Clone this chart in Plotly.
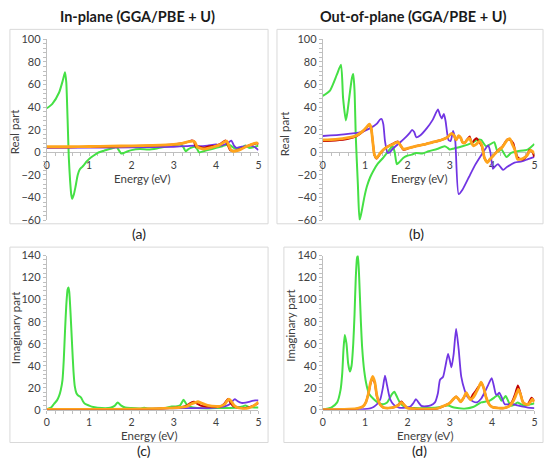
import plotly.graph_objects as go

# ---------------- DATA ----------------
# Panel (a): real part, in-plane
a_green_x = [0, 0.13, 0.29, 0.38, 0.43, 0.46, 0.48, 0.5, 0.52, 0.55, 0.58, 0.6, 0.64, 0.68, 0.73, 0.78, 0.83, 0.87, 0.93, 1.0, 1.1, 1.22, 1.35, 1.46, 1.58, 1.65, 1.7, 1.76, 1.82, 1.9, 2.0, 2.2, 2.4, 2.6, 2.8, 3.0, 3.15, 3.22, 3.28, 3.33, 3.4, 3.5, 3.55, 3.6, 3.7, 3.85, 4.0, 4.15, 4.3, 4.36, 4.45, 4.6, 4.7, 4.78, 4.88, 5.0]
a_green_y = [39, 43, 53, 64, 71, 62, 42, 18, -5, -25, -38, -41, -37, -30, -20, -15, -13, -11.5, -8.5, -5.8, -3, -0.1, 1.5, 2.8, 4, 4.8, 2, -1, -0.5, 0.8, 2, 3, 2.5, 3.5, 5, 6, 7, 5, 1, 2.5, 4, 5, 3, 0, 1, 2.5, 4, 5.5, 7, 5.5, 3.5, 4.5, 6, 4, 4.5, 6]
a_purple_x = [0, 1, 2, 3, 3.3, 3.5, 3.6, 3.8, 4.0, 4.1, 4.2, 4.3, 4.36, 4.42, 4.48, 4.6, 4.7, 4.8, 4.9, 5.0]
a_purple_y = [4, 4.2, 4.5, 5, 5.5, 6, 5.5, 6, 7, 6, 7, 9, 10.5, 6, 4, 5, 5.5, 6, 5, 2]
a_red_x = [0, 0.5, 1, 1.5, 2, 2.5, 3.0, 3.2, 3.35, 3.42, 3.47, 3.52, 3.6, 3.7, 3.8, 3.9, 4.0, 4.1, 4.15, 4.22, 4.28, 4.33, 4.4, 4.5, 4.6, 4.7, 4.8, 4.9, 4.95, 5.0]
a_red_y = [4.5, 4.6, 4.8, 5.2, 5.6, 6, 7, 8, 9.5, 10.5, 10, 5, 5, 4, 5, 5.5, 6, 7.5, 9, 10.5, 6, 2, 1.5, 2, 3.5, 5, 6.5, 7.5, 8, 7]
a_orange_x = [0, 0.5, 1, 1.5, 2, 2.5, 3.0, 3.2, 3.35, 3.45, 3.5, 3.55, 3.6, 3.7, 3.8, 3.9, 4.0, 4.1, 4.18, 4.25, 4.3, 4.35, 4.4, 4.5, 4.6, 4.7, 4.8, 4.9, 4.95, 5.0]
a_orange_y = [5, 5, 5.2, 5.5, 5.8, 6.2, 7, 8, 9.5, 10, 9, 5, 4, 3, 3.5, 4.5, 5.5, 7, 9, 10, 6, 2, 1, 1.5, 3, 5, 6.5, 8, 8.5, 7.5]

# Panel (b): real part, out-of-plane
b_green_x = [0, 0.17, 0.33, 0.43, 0.48, 0.545, 0.58, 0.64, 0.69, 0.72, 0.75, 0.78, 0.83, 0.87, 0.92, 0.98, 1.04, 1.12, 1.2, 1.3, 1.43, 1.55, 1.65, 1.7, 1.75, 1.8, 1.9, 1.98, 2.1, 2.21, 2.35, 2.5, 2.7, 2.88, 2.95, 3.0, 3.1, 3.3, 3.5, 3.66, 3.74, 3.8, 3.86, 3.95, 4.05, 4.13, 4.22, 4.34, 4.45, 4.6, 4.84, 5.0]
b_green_y = [50, 54.7, 68.5, 77.6, 48, 28.3, 35, 52.7, 66, 69.3, 55, 14, -29, -60, -52, -40, -30.4, -22, -16, -10, -4.6, 1.1, 5.4, 0, -10.4, -9, -5, -3.2, -2, -0.5, -1, 1, 3, 5.4, 4, 2.5, 3.5, 5.5, 8, 11.2, 11, 8, 5.4, 7, 9, 0.5, 2.5, -4, -0.4, 1, 2.5, 7.5]
b_purple_x = [0, 0.5, 0.9, 1.1, 1.28, 1.35, 1.39, 1.43, 1.47, 1.53, 1.58, 1.65, 1.8, 1.95, 2.05, 2.11, 2.16, 2.21, 2.3, 2.45, 2.6, 2.72, 2.77, 2.81, 2.86, 2.9, 2.97, 3.02, 3.08, 3.13, 3.21, 3.3, 3.45, 3.6, 3.75, 3.83, 3.91, 3.96, 4.02, 4.08, 4.14, 4.2, 4.26, 4.35, 4.53, 4.7, 4.85, 5.0]
b_purple_y = [14.5, 16, 18, 21, 25.5, 29, 29.5, 25, 10, -0.4, 0, 3, 8, 13, 17, 20, 18, 13.4, 15, 21, 29, 38, 33, 30, 34, 28, 11, 10, 19, 10, -37, -33, -22, -11, -2, 2.5, 6.2, 0, -14.5, -12, -10.4, -13, -15.5, -13, -9, -8, -6, -4]
b_red_x = [0, 0.3, 0.6, 0.8, 0.95, 1.05, 1.1, 1.14, 1.18, 1.22, 1.27, 1.35, 1.45, 1.55, 1.65, 1.72, 1.78, 1.84, 1.9, 1.95, 2.05, 2.2, 2.4, 2.6, 2.8, 2.95, 3.04, 3.1, 3.15, 3.21, 3.26, 3.3, 3.35, 3.41, 3.47, 3.52, 3.58, 3.63, 3.7, 3.76, 3.82, 3.89, 3.95, 4.05, 4.13, 4.25, 4.36, 4.42, 4.5, 4.56, 4.62, 4.68, 4.75, 4.82, 4.88, 4.94, 5.0]
b_red_y = [10, 10.5, 12, 14.5, 18.5, 22.5, 24.5, 22, 10, -2, -5.5, -1.5, 3, 5.5, 7.5, 9, 9.5, 6, 2.5, 2.5, 4, 5.5, 7, 9, 11, 13.5, 16.5, 15, 11, 14.5, 12.5, 9, 8.5, 11.5, 14, 8, 11, 12.5, 9, 5, -5, -8.5, -6, -2, 1.5, 5.5, 11.5, 11, 8, -1, -5, -6, -6, -3, 2, 1, -4]
b_orange_x = [0, 0.3, 0.6, 0.8, 0.95, 1.05, 1.1, 1.14, 1.18, 1.22, 1.27, 1.35, 1.45, 1.55, 1.65, 1.72, 1.78, 1.84, 1.9, 1.95, 2.05, 2.2, 2.4, 2.6, 2.8, 2.95, 3.04, 3.1, 3.15, 3.21, 3.26, 3.3, 3.35, 3.41, 3.47, 3.52, 3.56, 3.62, 3.7, 3.76, 3.82, 3.89, 3.95, 4.05, 4.13, 4.25, 4.36, 4.42, 4.48, 4.54, 4.6, 4.68, 4.75, 4.82, 4.9, 4.95, 5.0]
b_orange_y = [11, 11.5, 13, 15, 19, 23, 25, 22, 10, -2, -5, -1, 3, 5.5, 7, 8.5, 9, 6, 3, 3, 4, 5.5, 7, 9, 11, 13.5, 16.8, 15, 11, 14.8, 13, 9, 8.3, 11, 12.5, 8, 5.8, 7, 9.7, 6, -5, -9, -6, -2, 1.1, 5, 11, 12, 7, 2, -6, -6, -5, -3, 1.7, 1, -1]

# Panel (c): imaginary part, in-plane
c_green_x = [0, 0.1, 0.17, 0.24, 0.29, 0.33, 0.37, 0.4, 0.43, 0.46, 0.49, 0.51, 0.53, 0.56, 0.6, 0.63, 0.66, 0.7, 0.74, 0.78, 0.81, 0.85, 0.9, 1.0, 1.1, 1.3, 1.5, 1.6, 1.675, 1.75, 1.85, 2.0, 2.2, 2.3, 2.4, 2.6, 2.8, 2.95, 3.05, 3.15, 3.23, 3.3, 3.4, 3.55, 3.8, 4.0, 4.2, 4.5, 4.62, 4.69, 4.78, 4.9, 5.0]
c_green_y = [0.5, 2, 5.3, 8.5, 12.6, 18, 27, 45, 71.5, 95, 109, 111, 107, 88, 56.7, 35, 21.4, 15, 13, 12, 11, 8, 5.5, 3.8, 2.5, 1.5, 1.8, 3.5, 6.7, 4, 2, 1.5, 1.2, 1.8, 1.2, 1, 1.5, 3, 3, 4, 9, 5, 2.5, 1.5, 1.2, 1.5, 1.5, 2, 3, 3.8, 2.5, 2, 2]
c_purple_x = [0, 1, 2, 2.5, 2.9, 3.2, 3.5, 3.8, 4.0, 4.2, 4.32, 4.39, 4.44, 4.5, 4.6, 4.7, 4.8, 4.85, 4.92, 5.0]
c_purple_y = [0.3, 0.3, 0.5, 0.8, 1.2, 1.5, 1.5, 1.5, 2, 3, 5, 8, 9.7, 8, 6.2, 6.5, 7.5, 8, 8.5, 8.6]
c_red_x = [0, 1, 2, 2.6, 2.9, 3.1, 3.25, 3.35, 3.43, 3.48, 3.55, 3.65, 3.8, 4.0, 4.1, 4.18, 4.24, 4.28, 4.33, 4.4, 4.5, 4.6, 4.7, 4.8, 4.9, 5.0]
c_red_y = [0.3, 0.3, 0.6, 1, 1.5, 2, 3, 5, 7, 7.3, 5.5, 3.5, 3, 2.5, 3, 5, 8, 9.7, 7, 3.5, 2, 1.5, 1.5, 2.5, 4, 6]
c_orange_x = [0, 1, 2, 2.6, 2.9, 3.1, 3.3, 3.4, 3.5, 3.57, 3.65, 3.8, 4.0, 4.1, 4.2, 4.26, 4.3, 4.35, 4.42, 4.5, 4.6, 4.7, 4.8, 4.9, 5.0]
c_orange_y = [0.3, 0.3, 0.6, 1, 1.5, 2, 3, 5, 6.5, 7.3, 6, 4, 3, 3.2, 5, 8, 9.7, 8, 4, 2, 1.2, 1, 2, 4, 7]

# Panel (d): imaginary part, out-of-plane
d_green_x = [0, 0.2, 0.34, 0.42, 0.46, 0.49, 0.52, 0.56, 0.6, 0.64, 0.68, 0.72, 0.75, 0.78, 0.81, 0.83, 0.86, 0.9, 0.93, 0.98, 1.04, 1.1, 1.2, 1.3, 1.43, 1.52, 1.57, 1.63, 1.69, 1.75, 1.82, 1.9, 2.0, 2.2, 2.4, 2.7, 2.96, 3.1, 3.35, 3.55, 3.74, 3.85, 3.93, 4.05, 4.13, 4.18, 4.22, 4.27, 4.32, 4.38, 4.44, 4.52, 4.6, 4.68, 4.75, 4.85, 5.0]
d_green_y = [0.2, 2, 6.7, 18, 33, 55, 68, 60, 42, 34.7, 40, 60, 86, 120, 138, 139.7, 120, 80, 56.8, 35, 21.4, 14, 9.7, 6.5, 5, 6.5, 9.7, 14, 16.4, 12, 6.7, 3.5, 2, 1.5, 1.5, 2, 3.8, 2, 1, 2.5, 6.7, 7.5, 8, 11, 13.2, 11, 8.2, 10, 12.6, 8, 3.8, 4.5, 6.7, 5, 3.8, 4.5, 6]
d_purple_x = [0, 0.5, 0.9, 1.05, 1.12, 1.2, 1.28, 1.36, 1.42, 1.47, 1.52, 1.59, 1.68, 1.8, 1.95, 2.07, 2.14, 2.2, 2.26, 2.33, 2.45, 2.55, 2.65, 2.72, 2.77, 2.84, 2.9, 2.96, 3.0, 3.04, 3.09, 3.15, 3.21, 3.27, 3.35, 3.43, 3.55, 3.64, 3.74, 3.82, 3.9, 3.99, 4.04, 4.09, 4.13, 4.17, 4.22, 4.3, 4.4, 4.5, 4.6, 4.7, 4.85, 5.0]
d_purple_y = [0.1, 0.2, 0.4, 0.8, 1.2, 2.5, 5, 9.7, 20, 30.9, 22, 9.7, 4.5, 2, 2, 3, 6, 9.7, 6.7, 3.5, 3.2, 4, 6.7, 15, 27.3, 29.7, 40, 50.8, 45, 38.5, 50, 73.5, 55, 30.3, 18, 11.1, 7.5, 6.7, 10, 15.5, 22, 28.8, 22, 14.1, 14, 15.5, 12, 5, 5, 5, 4, 3, 2, 1.5]
d_red_x = [0, 0.5, 0.8, 0.95, 1.02, 1.08, 1.13, 1.18, 1.23, 1.28, 1.35, 1.43, 1.55, 1.7, 1.78, 1.86, 1.93, 2.0, 2.2, 2.5, 2.7, 2.88, 3.0, 3.08, 3.15, 3.21, 3.26, 3.33, 3.39, 3.44, 3.49, 3.55, 3.62, 3.68, 3.75, 3.8, 3.86, 3.93, 4.0, 4.15, 4.28, 4.4, 4.48, 4.55, 4.61, 4.67, 4.73, 4.8, 4.86, 4.93, 5.0]
d_red_y = [0.1, 0.3, 1, 3, 7, 15, 24, 29, 24, 12, 5, 2, 1.5, 2.5, 4.5, 7.5, 4, 1.5, 0.8, 0.5, 1, 3.8, 6, 9.5, 12, 9.5, 7.3, 11, 15, 12, 10, 14, 17.5, 21, 24, 20, 11, 5, 2.5, 1.5, 1.5, 3.5, 8, 15, 22, 15, 7, 5, 6, 11, 8]
d_orange_x = [0, 0.5, 0.8, 0.95, 1.02, 1.08, 1.13, 1.18, 1.23, 1.28, 1.35, 1.43, 1.55, 1.7, 1.78, 1.86, 1.93, 2.0, 2.2, 2.5, 2.7, 2.88, 3.0, 3.08, 3.15, 3.21, 3.26, 3.33, 3.39, 3.44, 3.49, 3.55, 3.62, 3.68, 3.74, 3.8, 3.86, 3.93, 4.0, 4.15, 4.28, 4.4, 4.48, 4.55, 4.62, 4.67, 4.73, 4.8, 4.86, 4.92, 4.95, 5.0]
d_orange_y = [0.1, 0.3, 1, 3, 7, 15, 25, 30.3, 25, 12.6, 5, 2, 1.5, 2.5, 4, 6.7, 4, 1.5, 0.8, 0.5, 1, 3.8, 6, 9.5, 12, 9.5, 7.3, 11, 15.5, 12, 9.1, 11, 15.5, 20, 25, 20, 11.1, 5, 2.5, 1.5, 1.5, 3, 6.7, 12, 18.5, 14, 6.7, 5, 5, 8, 9.7, 7]

energy_ticks = [0, 1, 2, 3, 4, 5]
titles = ["In-plane (GGA/PBE + U)", "Out-of-plane (GGA/PBE + U)"]
panel_labels = ["(a)", "(b)", "(c)", "(d)"]
real_label = "Real part"
imag_label = "Imaginary part"
x_label = "Energy (eV)"

# ---------------- STYLE ----------------
W, H = 549, 467
GREEN, PURPLE, RED, ORANGE = "#45E045", "#7135E3", "#C00000", "#FFA41C"
FONT = "Lato"
TXT = "#404040"
AX = "#BFBFBF"

def px(x):
    return x / W

def py(y):
    return 1 - y / H

fig = go.Figure()

panels = {
    "a": dict(xd=(44.3, 258.3), yd=(33.3, 219.3), yr=(-60, 100), dt=20, mdt=4,
              series=[(a_green_x, a_green_y, GREEN, 2), (a_purple_x, a_purple_y, PURPLE, 1.8),
                      (a_red_x, a_red_y, RED, 2), (a_orange_x, a_orange_y, ORANGE, 2.8)]),
    "b": dict(xd=(323.3, 537.3), yd=(33.3, 219.3), yr=(-60, 100), dt=20, mdt=4,
              series=[(b_green_x, b_green_y, GREEN, 2), (b_purple_x, b_purple_y, PURPLE, 1.8),
                      (b_red_x, b_red_y, RED, 2), (b_orange_x, b_orange_y, ORANGE, 2.8)]),
    "c": dict(xd=(44.3, 258.3), yd=(255.7, 414.3), yr=(0, 140), dt=20, mdt=4,
              series=[(c_green_x, c_green_y, GREEN, 2), (c_purple_x, c_purple_y, PURPLE, 1.8),
                      (c_red_x, c_red_y, RED, 2), (c_orange_x, c_orange_y, ORANGE, 2.8)]),
    "d": dict(xd=(323.3, 537.3), yd=(255.7, 414.3), yr=(0, 140), dt=20, mdt=4,
              series=[(d_green_x, d_green_y, GREEN, 2), (d_purple_x, d_purple_y, PURPLE, 1.8),
                      (d_red_x, d_red_y, RED, 2), (d_orange_x, d_orange_y, ORANGE, 2.8)]),
}

layout_axes = {}
for i, (key, p) in enumerate(panels.items(), start=1):
    xa = "x" if i == 1 else f"x{i}"
    ya = "y" if i == 1 else f"y{i}"
    for sx, sy, col, w in p["series"]:
        fig.add_trace(go.Scatter(x=sx, y=sy, mode="lines", xaxis=xa, yaxis=ya,
                                 line=dict(color=col, width=w, shape="spline", smoothing=0.6),
                                 showlegend=False, hoverinfo="skip"))
    y0, y1 = p["yd"]
    ydom = [py(y1), py(y0)]
    ymin, ymax = p["yr"]
    zero_px = y0 + (ymax - 0) / (ymax - ymin) * (y1 - y0)
    xname = "xaxis" if i == 1 else f"xaxis{i}"
    yname = "yaxis" if i == 1 else f"yaxis{i}"
    layout_axes[xname] = dict(
        domain=[px(p["xd"][0]), px(p["xd"][1])], range=[0, 5], anchor="free",
        position=py(zero_px), tickvals=energy_ticks, showgrid=False, zeroline=False,
        showline=True, linecolor=AX, linewidth=1, ticks="outside", ticklen=3, tickcolor=AX,
        minor=dict(dtick=0.2, ticks="outside", ticklen=3, tickcolor=AX),
        tickfont=dict(family=FONT, size=10.5, color=TXT), layer="below traces", fixedrange=True)
    layout_axes[yname] = dict(
        domain=ydom, range=[ymin, ymax], anchor=xa, dtick=p["dt"], showgrid=False,
        zeroline=False, showline=True, linecolor=AX, linewidth=1, ticks="outside",
        ticklen=3, tickcolor=AX,
        minor=dict(dtick=p["mdt"], ticks="outside", ticklen=3, tickcolor=AX),
        tickfont=dict(family=FONT, size=11, color=TXT), layer="below traces", fixedrange=True)

fig.update_layout(**layout_axes)

boxes = [(7, 23, 268, 223), (277, 23, 546, 223), (7, 247, 268, 448), (284, 247, 546, 448)]
for x0, y0, x1, y1 in boxes:
    fig.add_shape(type="rect", xref="paper", yref="paper", x0=px(x0), x1=px(x1),
                  y0=py(y1), y1=py(y0), line=dict(color="#D9D9D9", width=1), layer="below")

ann = []
tfont = dict(family=FONT, size=14.5, color="#1a1a1a", weight="bold")
ann.append(dict(x=px(136), y=py(10), text=titles[0], font=tfont))
ann.append(dict(x=px(415), y=py(10), text=titles[1], font=tfont))
for (lx, ly), t in zip([(138, 233), (418, 233), (143, 456), (421, 456)], panel_labels):
    ann.append(dict(x=px(lx), y=py(ly), text=t, font=dict(family=FONT, size=14, color="#222")))
for (lx, ly) in [(141, 176), (421, 176), (148, 441), (427, 441)]:
    ann.append(dict(x=px(lx), y=py(ly), text=x_label, font=dict(family=FONT, size=11.5, color=TXT)))
for (lx, ly), t in zip([(12, 128), (284, 130), (12.5, 330), (291, 328)],
                       [real_label, real_label, imag_label, imag_label]):
    ann.append(dict(x=px(lx), y=py(ly), text=t, textangle=-90,
                    font=dict(family=FONT, size=11.5, color=TXT)))
for a in ann:
    a.update(xref="paper", yref="paper", showarrow=False, xanchor="center", yanchor="middle")
fig.update_layout(annotations=ann)

fig.update_layout(width=W, height=H, margin=dict(l=0, r=0, t=0, b=0),
                  paper_bgcolor="white", plot_bgcolor="white")

fig.write_html("out.html", config={"displayModeBar": False, "staticPlot": True},
               post_script="document.body.style.margin='0';document.body.style.overflow='hidden';")
